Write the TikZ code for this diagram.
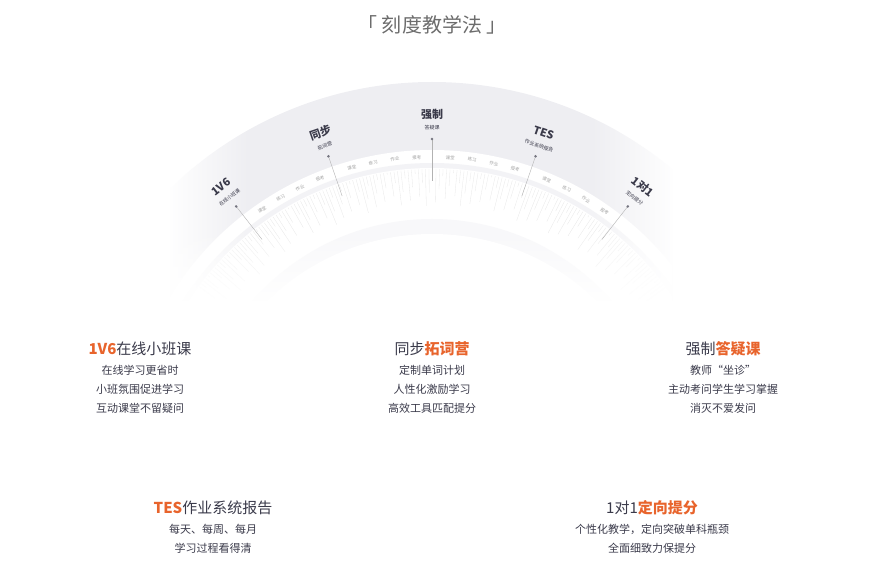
\documentclass[tikz,border=0pt]{standalone}
\usepackage{fontspec}
\setmainfont{Noto Sans CJK SC}
\usetikzlibrary{positioning, calc, fadings}
\definecolor{accent}{HTML}{E8642C}
\definecolor{ink}{HTML}{3A3A4A}
\definecolor{band}{HTML}{EEEEF2}
\tikzset{
  mark label/.style={text=ink, font=\bfseries\fontsize{11}{12}\selectfont, align=center, inner sep=0pt},
  mark sub/.style={text=ink, font=\fontsize{5}{6}\selectfont, inner sep=0pt},
  lesson/.style={text=gray!70, font=\fontsize{4.5}{5}\selectfont, inner sep=0pt},
  title/.style={font=\fontsize{15}{18}\selectfont, text=ink},
  body/.style={font=\fontsize{11}{19}\selectfont, text=ink, align=center},
}
\begin{document}
\begin{tikzpicture}[x=1pt,y=-1pt]
\useasboundingbox (0,0) rectangle (892,580);

% heading
\node (head) [font=\fontsize{20}{24}\selectfont, text=gray!85!black] at (432,25) {「\ 刻度教学法\ 」};

% arc
\begin{scope}
\clip (170,60) rectangle (672,300);
\fill[band] (432,457) circle (375);
\fill[white] (432,457) circle (307);
\fill[band!70] (432,457) circle (294);
\fill[white] (432,457) circle (289);
\foreach \a in {36,36.7,...,144}{
  \pgfmathsetmacro\len{250+12*mod(\a*7,3)}
  \draw[gray!18, line width=0.3pt] ($(432,457)+({\len*cos(\a)},{-\len*sin(\a)})$) -- ($(432,457)+({288*cos(\a)},{-288*sin(\a)})$);
}
\fill[band!40] (432,457) circle (238);
\fill[white] (432,470) circle (236);
\end{scope}
% soft edges
\fill[white, path fading=east] (168,60) rectangle (250,302);
\fill[white, path fading=west] (590,60) rectangle (674,302);
\fill[white, path fading=north] (168,230) rectangle (674,302);

% marks on the arc
\foreach \a/\bigt/\subt/\n in {128/1V6/在线小班课/m1, 109/同步/拓词营/m2, 90/强制/答疑课/m3, 71/TES/作业系统报告/m4, 52/1对1/定向提分/m5}{
  \coordinate (\n-in) at ($(432,457)+({276*cos(\a)},{-276*sin(\a)})$);
  \coordinate (\n-dot) at ($(432,457)+({318*cos(\a)},{-318*sin(\a)})$);
  \draw[gray!60, line width=0.4pt] (\n-in) -- (\n-dot);
  \fill[ink!70] (\n-dot) circle (1.4);
  \node (\n-sub) [mark sub, rotate=\a-90] at ($(432,457)+({329*cos(\a)},{-329*sin(\a)})$) {\subt};
  \node (\n) [mark label, rotate=\a-90] at ($(432,457)+({343*cos(\a)},{-343*sin(\a)})$) {\bigt};
}
\foreach \s in {0,1,2,3}{
  \foreach \b in {124.5,105.5,86.5,67.5}{
    \pgfmathsetmacro\ang{\b-\s*4.2}
    \node[lesson, rotate=\ang-90] at ($(432,457)+({300*cos(\ang)},{-300*sin(\ang)})$)
      {\ifcase\s 课堂\or 练习\or 作业\or 报考\fi};
  }
}

% feature blocks
\node (f1) [title] at (140,349) {\textcolor{accent}{\bfseries 1V6}在线小班课};
\node (f1t) [body, below=2pt of f1] {在线学习更省时\\小班氛围促进学习\\互动课堂不留疑问};
\node (f2) [title] at (432,349) {同步\textcolor{accent}{\bfseries 拓词营}};
\node (f2t) [body, below=2pt of f2] {定制单词计划\\人性化激励学习\\高效工具匹配提分};
\node (f3) [title] at (723,349) {强制\textcolor{accent}{\bfseries 答疑课}};
\node (f3t) [body, below=2pt of f3] {教师“坐诊”\\主动考问学生学习掌握\\消灭不爱发问};
\node (f4) [title] at (213,508) {\textcolor{accent}{\bfseries TES}作业系统报告};
\node (f4t) [body, below=2pt of f4] {每天、每周、每月\\学习过程看得清};
\node (f5) [title] at (652,508) {1对1\textcolor{accent}{\bfseries 定向提分}};
\node (f5t) [body, below=2pt of f5] {个性化教学，定向突破单科瓶颈\\全面细致力保提分};
\end{tikzpicture}
\end{document}
